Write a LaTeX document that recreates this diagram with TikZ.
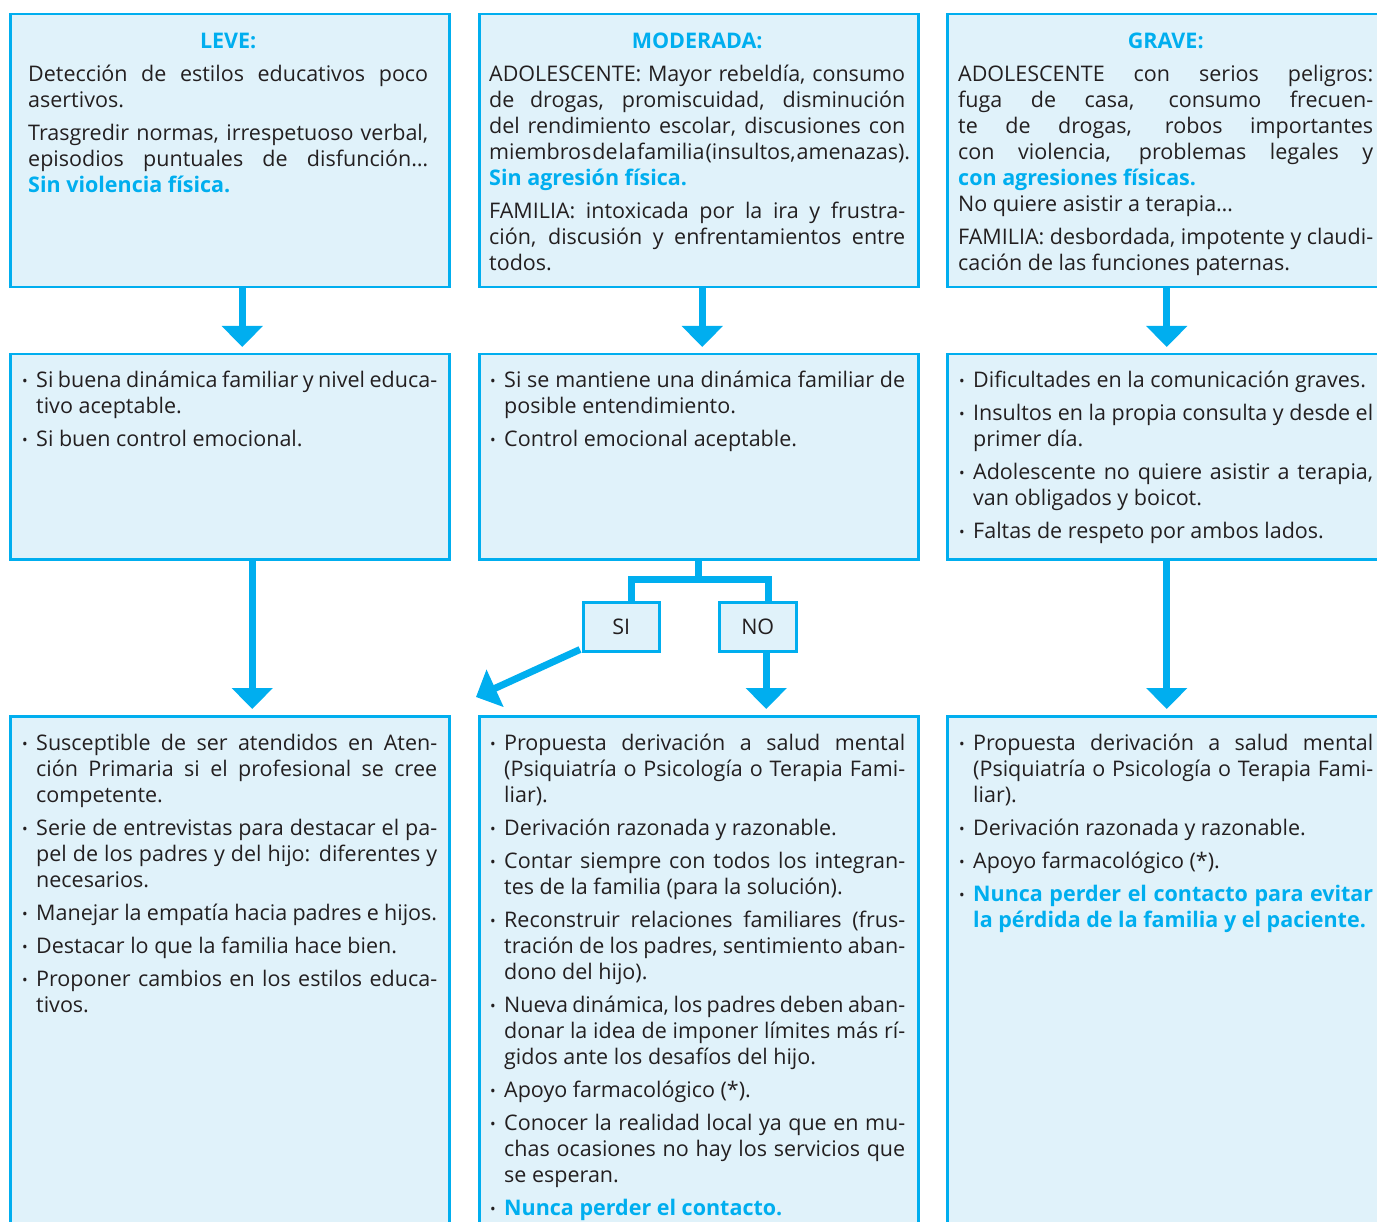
\documentclass[tikz,border=0pt]{standalone}
\usepackage{fontspec}
\setmainfont{Open Sans}
\usetikzlibrary{arrows.meta}
\definecolor{azul}{HTML}{00AEEF}
\definecolor{fondo}{HTML}{E0F2FA}
\definecolor{texto}{HTML}{231F20}
\newcommand{\dest}[1]{{\bfseries\color{azul}#1}}
\newcommand{\titulo}[1]{{\centering\dest{#1}\par}}
\newcommand{\punto}{\hangindent=14pt\hangafter=1\makebox[14pt][l]{\fontsize{15}{15}\selectfont\raisebox{1pt}{•}}}

\begin{document}
\begin{tikzpicture}
[x=1pt,y=-1pt,
caja/.style={draw=azul, fill=fondo, line width=2.5pt, rectangle, inner sep=0pt, anchor=north west, minimum width=439pt},
texto/.style={anchor=base west, inner sep=0pt, align=justify, text=texto, font=\fontsize{21.5}{26}\selectfont, execute at begin node={\setlength{\parskip}{7pt}}},
flecha/.style={draw=azul, line width=7pt, -{Triangle[width=40pt,length=21pt]}},
rama/.style={draw=azul, line width=7pt, line join=miter}]
\path[use as bounding box, clip] (0,0) rectangle (1377,1222);
\node[caja, minimum height=273pt] (leve) at (9,13) {};
\node[caja, minimum height=273pt] (moderada) at (478,13) {};
\node[caja, minimum height=273pt] (grave) at (946,13) {};
\node[caja, minimum height=205pt] (leve2) at (9,353) {};
\node[caja, minimum height=205pt] (moderada2) at (478,353) {};
\node[caja, minimum height=205pt] (grave2) at (946,353) {};
\node[caja, minimum height=540pt] (leve3) at (9,715) {};
\node[caja, minimum height=540pt] (moderada3) at (478,715) {};
\node[caja, minimum height=540pt] (grave3) at (946,715) {};
\node[caja, minimum width=76pt, minimum height=49pt, text=texto, font=\fontsize{21.5}{26}\selectfont] (si) at (582,601) {SI};
\node[caja, minimum width=77pt, minimum height=49pt, text=texto, font=\fontsize{21.5}{26}\selectfont] (no) at (718,601) {NO};

\node[texto, text width=400pt] (tleve) at (28,49) {\titulo{LEVE:}
Detección de estilos educativos poco\linebreak asertivos.\par
Trasgredir normas, irrespetuoso verbal,\linebreak episodios puntuales de disfunción…\linebreak \dest{Sin violencia física.}\par};
\node[texto, text width=416pt] (tmoderada) at (489,49) {\titulo{MODERADA:}
ADOLESCENTE: Mayor rebeldía, consumo\linebreak de drogas, promiscuidad, disminución\linebreak del rendimiento escolar, discusiones con\linebreak \makebox[416pt][s]{\spaceskip=1pt plus 3pt miembros de la familia (insultos, amenazas).}\linebreak \dest{Sin agresión física.}\par
FAMILIA: intoxicada por la ira y frustra-\linebreak ción, discusión y enfrentamientos entre\linebreak todos.\par};
\node[texto, text width=415pt] (tgrave) at (958,49) {\titulo{GRAVE:}
ADOLESCENTE con serios peligros:\linebreak fuga de casa, consumo frecuen-\linebreak te de drogas, robos importantes\linebreak con violencia, problemas legales y\linebreak \dest{con agresiones físicas.}\\
No quiere asistir a terapia…\par
FAMILIA: desbordada, impotente y claudi-\linebreak cación de las funciones paternas.\par};

\node[texto, text width=415pt] (tleve2) at (22,388) {\punto Si buena dinámica familiar y nivel educa-\linebreak tivo aceptable.\par
\punto Si buen control emocional.\par};
\node[texto, text width=415pt] (tmoderada2) at (490,388) {\punto Si se mantiene una dinámica familiar de\linebreak posible entendimiento.\par
\punto Control emocional aceptable.\par};
\node[texto, text width=414pt] (tgrave2) at (959,388) {\punto Dificultades en la comunicación graves.\par
\punto Insultos en la propia consulta y desde el\linebreak primer día.\par
\punto Adolescente no quiere asistir a terapia,\linebreak van obligados y boicot.\par
\punto Faltas de respeto por ambos lados.\par};

\node[texto, text width=415pt] (tleve3) at (22,750) {\punto Susceptible de ser atendidos en Aten-\linebreak ción Primaria si el profesional se cree\linebreak competente.\par
\punto Serie de entrevistas para destacar el pa-\linebreak pel de los padres y del hijo: diferentes y\linebreak necesarios.\par
\punto Manejar la empatía hacia padres e hijos.\par
\punto Destacar lo que la familia hace bien.\par
\punto Proponer cambios en los estilos educa-\linebreak tivos.\par};
\node[texto, text width=415pt] (tmoderada3) at (490,750) {\punto Propuesta derivación a salud mental\linebreak (Psiquiatría o Psicología o Terapia Fami-\linebreak liar).\par
\punto Derivación razonada y razonable.\par
\punto Contar siempre con todos los integran-\linebreak tes de la familia (para la solución).\par
\punto Reconstruir relaciones familiares (frus-\linebreak tración de los padres, sentimiento aban-\linebreak dono del hijo).\par
\punto Nueva dinámica, los padres deben aban-\linebreak donar la idea de imponer límites más rí-\linebreak gidos ante los desafíos del hijo.\par
\punto Apoyo farmacológico (*).\par
\punto Conocer la realidad local ya que en mu-\linebreak chas ocasiones no hay los servicios que\linebreak se esperan.\par
\punto \dest{Nunca perder el contacto.}\par};
\node[texto, text width=414pt] (tgrave3) at (959,750) {\punto Propuesta derivación a salud mental\linebreak (Psiquiatría o Psicología o Terapia Fami-\linebreak liar).\par
\punto Derivación razonada y razonable.\par
\punto Apoyo farmacológico (*).\par
\punto \dest{Nunca perder el contacto para evitar\linebreak la pérdida de la familia y el paciente.}\par};

\draw[flecha, shorten >=6pt] ([xshift=12.5pt]leve.south) -- ([xshift=12.5pt]leve2.north);
\draw[flecha, shorten >=6pt] ([xshift=3.5pt]moderada.south) -- ([xshift=3.5pt]moderada2.north);
\draw[flecha, shorten >=6pt] (grave.south) -- (grave2.north);
\draw[flecha, shorten >=6pt] ([xshift=22.5pt]leve2.south) -- ([xshift=22.5pt]leve3.north);
\draw[flecha, shorten >=6pt] (grave2.south) -- (grave3.north);
\coordinate (bif) at ([yshift=-19pt]moderada2.south);
\coordinate (punta) at (476,697);
\draw[rama] (moderada2.south) -- (bif);
\draw[rama] ([xshift=10pt]si.north) |- (bif) -| ([xshift=11pt]no.north);
\draw[flecha] ([shift={(-2pt,3pt)}]si.south west) -- (punta);
\draw[flecha, shorten >=6pt] ([xshift=8.5pt]no.south) -- ([xshift=8.5pt]no.south |- moderada3.north);
\end{tikzpicture}
\end{document}
